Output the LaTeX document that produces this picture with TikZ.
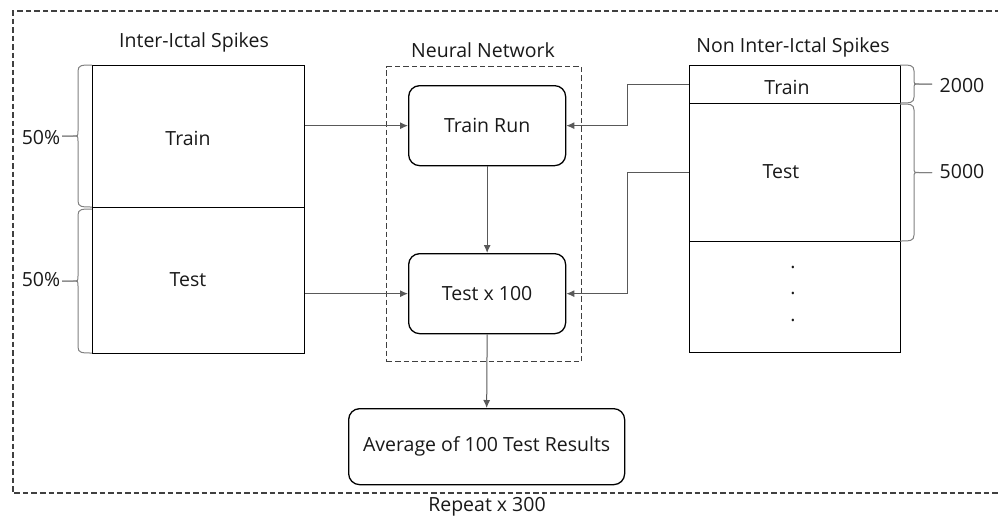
\documentclass[tikz,border=0pt]{standalone}
\usepackage{fontspec}
\setmainfont{Open Sans}
\usetikzlibrary{arrows.meta}

% vertical brace opening to the right (tip on the left)
\newcommand{\bracewest}[4]{% #1 edge x, #2 top y, #3 bottom y, #4 tip x
  \draw[bracestyle] (#1,#2) .. controls ({#1-10},#2) and ({#1-14},#2) .. ({#1-14},{#2+6})
    -- ({#1-14},{(#2+#3)/2-5}) .. controls ({#1-14},{(#2+#3)/2}) .. ({#1-19},{(#2+#3)/2}) -- (#4,{(#2+#3)/2});
  \draw[bracestyle] (#4,{(#2+#3)/2}) -- ({#1-19},{(#2+#3)/2}) .. controls ({#1-14},{(#2+#3)/2}) .. ({#1-14},{(#2+#3)/2+5})
    -- ({#1-14},{#3-6}) .. controls ({#1-14},#3) and ({#1-10},#3) .. (#1,#3);
}
% vertical brace opening to the left (tip on the right)
\newcommand{\braceeast}[4]{%
  \draw[bracestyle] (#1,#2) .. controls ({#1+10},#2) and ({#1+14},#2) .. ({#1+14},{#2+6})
    -- ({#1+14},{(#2+#3)/2-5}) .. controls ({#1+14},{(#2+#3)/2}) .. ({#1+19},{(#2+#3)/2}) -- (#4,{(#2+#3)/2});
  \draw[bracestyle] (#4,{(#2+#3)/2}) -- ({#1+19},{(#2+#3)/2}) .. controls ({#1+14},{(#2+#3)/2}) .. ({#1+14},{(#2+#3)/2+5})
    -- ({#1+14},{#3-6}) .. controls ({#1+14},#3) and ({#1+10},#3) .. (#1,#3);
}

\begin{document}
\begin{tikzpicture}[x=1pt,y=-1pt,
  every node/.style={font=\fontsize{19.5}{23}\selectfont, inner sep=0pt, text=black!90},
  cell/.style={draw=black, line width=1.3pt, anchor=north west},
  stage/.style={draw=black, line width=1.3pt, rounded corners=11pt, anchor=north west},
  frame/.style={draw=black!75, line width=1.3pt, dash pattern=on 5.5pt off 3pt},
  conn/.style={draw=black!65, line width=1pt},
  arr/.style={conn, -{Latex[length=8pt,width=7pt]}},
  bracestyle/.style={draw=black!50, line width=1pt}
]
\useasboundingbox (0,0) rectangle (998,520);

% outer repeat frame, open on the right
\draw[frame] (1000,11) -- (13,11) -- (13,493) -- (1000,493);
\node (repeat) at (487,507) {Repeat x 300};

% inter-ictal data split
\node (ltitle) at (194,42) {Inter-Ictal Spikes};
\node[cell, minimum width=212pt, minimum height=142pt] (ltrain) at (92,65) {};
\node[cell, minimum width=212pt, minimum height=146pt] (ltest) at (92,207) {};
\node (ltrainlbl) at (188,138) {Train};
\node (ltestlbl) at (188,280) {Test};
\bracewest{92}{65}{207}{62}
\bracewest{92}{209}{353}{62}
\node (lp1) at (41,138) {50\%};
\node (lp2) at (41,280) {50\%};

% neural network stages
\node (ntitle) at (483,50) {Neural Network};
\node[frame, minimum width=195pt, minimum height=295pt, anchor=north west] (nn) at (386,66) {};
\node[stage, minimum width=157pt, minimum height=80pt] (trainrun) at (408,85) {};
\node at (trainrun.center) {Train Run};
\node[stage, minimum width=157pt, minimum height=80pt] (testrun) at (408,253) {};
\node at (testrun.center) {Test x 100};
\node[stage, minimum width=276pt, minimum height=76pt] (avg) at (348,408) {};
\node at (avg.center) {Average of 100 Test Results};

% non inter-ictal data split
\node (rtitle) at (793,47) {Non Inter-Ictal Spikes};
\node[cell, minimum width=211pt, minimum height=38pt] (rtrain) at (689,65) {};
\node[cell, minimum width=211pt, minimum height=138pt] (rtest) at (689,103) {};
\node[cell, minimum width=211pt, minimum height=111pt] (rrest) at (689,241) {};
\node (rtrainlbl) at (787,87) {Train};
\node (rtestlbl) at (781,172) {Test};
\node (d1) at (793,267) {.};
\node (d2) at (793,293) {.};
\node (d3) at (793,320) {.};
\braceeast{900}{65}{103}{932}
\braceeast{900}{104}{241}{932}
\node (r1) at (962,86) {2000};
\node (r2) at (962,172) {5000};

% connectors
\draw[arr] (trainrun.west -| ltrain.east) -- (trainrun.west);
\draw[arr] (testrun.west -| ltest.east) -- (testrun.west);
\draw[arr] (rtrain.west) -- ++(-62,0) |- (trainrun.east);
\draw[arr] (rtest.west) -- ++(-62,0) |- (testrun.east);
\draw[arr] (trainrun.south) -- (testrun.north);
\draw[arr] (testrun.south) -- (avg.north);
\end{tikzpicture}
\end{document}
